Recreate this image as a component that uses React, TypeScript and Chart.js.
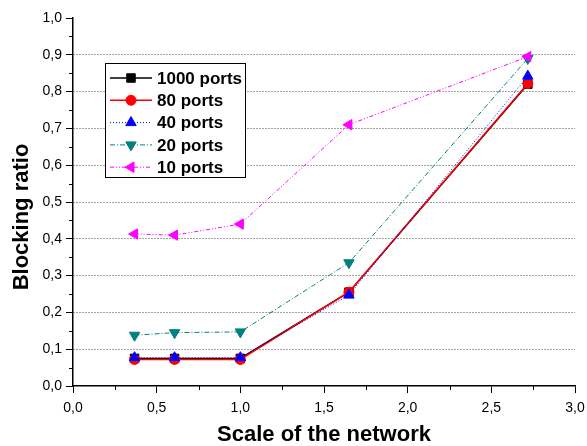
import React, { useEffect, useRef } from 'react';
import { Chart, registerables } from 'chart.js';
Chart.register(...registerables);

// ---- data ----
const scaleValues = [0.368, 0.607, 1.0, 1.649, 2.718];
const seriesNames = ['1000 ports', '80 ports', '40 ports', '20 ports', '10 ports'];
const ports1000 = [0.075, 0.075, 0.075, 0.255, 0.82];
const ports80 = [0.072, 0.072, 0.072, 0.255, 0.822];
const ports40 = [0.077, 0.077, 0.077, 0.247, 0.842];
const ports20 = [0.138, 0.145, 0.147, 0.335, 0.89];
const ports10 = [0.413, 0.41, 0.44, 0.71, 0.895];
const xTitle = 'Scale of the network';
const yTitle = 'Blocking ratio';

const seriesValues = [ports1000, ports80, ports40, ports20, ports10];

// ---- styles ----
const FONT = 'Arial, "Liberation Sans", sans-serif';
const styles = [
  { color: '#000000', pointStyle: 'rect', rotation: 0, radius: 6, lineWidth: 1.5, dash: [] as number[] },
  { color: '#ff0000', pointStyle: 'circle', rotation: 0, radius: 5, lineWidth: 1.5, dash: [] as number[] },
  { color: '#0000ff', pointStyle: 'triangle', rotation: 0, radius: 6, lineWidth: 1, dash: [1, 2] },
  { color: '#008080', pointStyle: 'triangle', rotation: 180, radius: 6, lineWidth: 1, dash: [5, 2, 1, 2] },
  { color: '#ff00ff', pointStyle: 'triangle', rotation: -90, radius: 6, lineWidth: 1, dash: [4, 2, 1, 2, 1, 2] },
];

const fmt = (v: number) => (Math.round(v * 10) / 10).toFixed(1).replace('.', ',');

function drawMarker(ctx: CanvasRenderingContext2D, st: any, x: number, y: number) {
  ctx.save();
  ctx.fillStyle = st.color;
  ctx.strokeStyle = st.color;
  ctx.lineWidth = 1;
  ctx.setLineDash([]);
  ctx.beginPath();
  const r = st.radius;
  if (st.pointStyle === 'rect') {
    const s = r * Math.SQRT1_2;
    ctx.rect(x - s, y - s, 2 * s, 2 * s);
  } else if (st.pointStyle === 'circle') {
    ctx.arc(x, y, r, 0, Math.PI * 2);
  } else {
    let rad = (st.rotation * Math.PI) / 180;
    ctx.moveTo(x + Math.sin(rad) * r, y - Math.cos(rad) * r);
    rad += (2 * Math.PI) / 3;
    ctx.lineTo(x + Math.sin(rad) * r, y - Math.cos(rad) * r);
    rad += (2 * Math.PI) / 3;
    ctx.lineTo(x + Math.sin(rad) * r, y - Math.cos(rad) * r);
    ctx.closePath();
  }
  ctx.fill();
  ctx.stroke();
  ctx.restore();
}

const minorTicks = {
  id: 'minorTicks',
  afterDraw(chart: any) {
    const ctx = chart.ctx;
    const xs = chart.scales.x;
    const ys = chart.scales.y;
    ctx.save();
    ctx.strokeStyle = '#000';
    ctx.lineWidth = 1;
    for (let i = 0; i < 10; i++) {
      const v = 0.05 + i * 0.1;
      const y = Math.round(ys.getPixelForValue(v)) + 0.5;
      ctx.beginPath();
      ctx.moveTo(ys.right, y);
      ctx.lineTo(ys.right - 4, y);
      ctx.stroke();
    }
    for (let i = 0; i < 6; i++) {
      const v = 0.25 + i * 0.5;
      const x = Math.round(xs.getPixelForValue(v)) + 0.5;
      ctx.beginPath();
      ctx.moveTo(x, xs.top);
      ctx.lineTo(x, xs.top + 4);
      ctx.stroke();
    }
    // y axis title
    ctx.save();
    ctx.translate(28, 217);
    ctx.rotate(-Math.PI / 2);
    ctx.font = `bold 22px ${FONT}`;
    ctx.fillStyle = '#000';
    ctx.textAlign = 'center';
    ctx.textBaseline = 'alphabetic';
    ctx.fillText(yTitle, 0, 0);
    ctx.restore();
    ctx.restore();
  },
};

const boxLegend = {
  id: 'boxLegend',
  afterDraw(chart: any) {
    const ctx = chart.ctx;
    const left = 105, top = 63, right = 245, bottom = 177;
    ctx.save();
    ctx.fillStyle = '#fff';
    ctx.fillRect(left, top, right - left, bottom - top);
    ctx.strokeStyle = '#000';
    ctx.lineWidth = 1;
    ctx.strokeRect(left + 0.5, top + 0.5, right - left, bottom - top);
    ctx.font = `bold 17px ${FONT}`;
    ctx.textBaseline = 'middle';
    ctx.textAlign = 'left';
    seriesNames.forEach((name, i) => {
      const st = styles[i];
      const y = 78 + i * 22.3;
      ctx.strokeStyle = st.color;
      ctx.lineWidth = st.lineWidth;
      ctx.setLineDash(st.dash);
      ctx.beginPath();
      ctx.moveTo(110, y);
      ctx.lineTo(152, y);
      ctx.stroke();
      ctx.setLineDash([]);
      drawMarker(ctx, st, 131, y);
      ctx.fillStyle = '#000';
      ctx.fillText(name, 157, y + 1);
    });
    ctx.restore();
  },
};

export default function App() {
  const ref = useRef<HTMLCanvasElement>(null);
  useEffect(() => {
    if (!ref.current) return;
    const chart = new Chart(ref.current, {
      type: 'line',
      data: {
        datasets: seriesValues.map((vals, i) => ({
          label: seriesNames[i],
          data: vals.map((v, j) => ({ x: scaleValues[j], y: v })),
          borderColor: styles[i].color,
          backgroundColor: styles[i].color,
          borderWidth: styles[i].lineWidth,
          borderDash: styles[i].dash,
          pointStyle: styles[i].pointStyle as any,
          rotation: styles[i].rotation,
          pointRadius: styles[i].radius,
          pointBorderWidth: 1,
          pointBorderColor: styles[i].color,
          pointBackgroundColor: styles[i].color,
          tension: 0,
          fill: false,
          order: 5 - i,
        })),
      },
      options: {
        animation: false,
        responsive: false,
        devicePixelRatio: 1,
        layout: { padding: { top: 18, right: 12, left: 0, bottom: 0 } },
        plugins: { legend: { display: false }, tooltip: { enabled: false } },
        scales: {
          x: {
            type: 'linear',
            min: 0,
            max: 3,
            ticks: {
              stepSize: 0.5,
              autoSkip: false,
              maxRotation: 0,
              color: '#000',
              padding: 7,
              font: { family: FONT, size: 14 },
              callback: (v: any) => fmt(Number(v)),
            },
            grid: { drawOnChartArea: false, drawTicks: true, tickLength: 7, tickColor: '#000', tickWidth: 1 },
            border: { color: '#000', width: 1.5 },
            title: {
              display: true,
              text: xTitle,
              color: '#000',
              font: { family: FONT, size: 22, weight: 'bold', lineHeight: 1 },
              padding: { top: 0, bottom: 0 },
            },
            afterFit: (s: any) => { s.height = 60; s.paddingRight = 0; s.paddingLeft = 0; },
          },
          y: {
            type: 'linear',
            min: 0,
            max: 1,
            ticks: {
              stepSize: 0.1,
              autoSkip: false,
              color: '#000',
              padding: 4,
              font: { family: FONT, size: 14 },
              callback: (v: any) => fmt(Number(v)),
            },
            grid: {
              drawTicks: true,
              tickLength: 7,
              tickColor: '#000',
              tickWidth: 1,
              lineWidth: 1,
              color: (c: any) => {
                const v = c.tick ? c.tick.value : 0;
                return v < 0.01 || v > 0.99 ? 'rgba(0,0,0,0)' : '#444';
              },
            },
            border: { color: '#000', width: 1.5, dash: [1, 2] },
            title: { display: false },
            afterFit: (s: any) => { s.width = 73; },
          },
        },
      },
      plugins: [minorTicks, boxLegend],
    });
    return () => chart.destroy();
  }, []);
  return (
    <div style={{ position: 'absolute', left: 0, top: 0, width: 587, height: 446, background: '#fff' }}>
      <canvas ref={ref} width={587} height={446} />
    </div>
  );
}
